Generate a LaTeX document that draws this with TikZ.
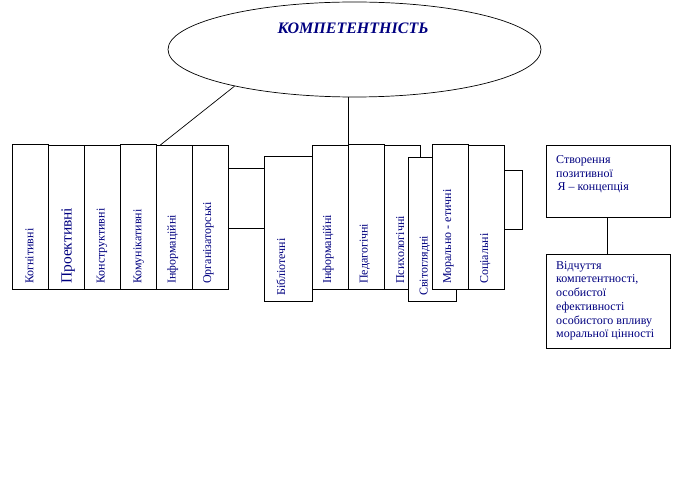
\documentclass[tikz,border=0pt]{standalone}
\usepackage{fontspec}
\setmainfont{Liberation Serif}
\usetikzlibrary{shapes.geometric,fit}
\definecolor{tnavy}{HTML}{000080}
\tikzset{
  bx/.style={draw=black, fill=white, line width=0.9pt, rectangle, inner sep=0pt},
  vtxt/.style={rotate=90, anchor=base west, inner sep=0pt, text=tnavy, font=\fontsize{12}{14}\selectfont},
  htxt/.style={anchor=north west, inner sep=0pt, align=left, text=tnavy, font=\fontsize{12}{13.7}\selectfont},
  conn/.style={draw=black, line width=0.9pt},
  thin/.style={draw=black, line width=0.7pt}
}
\begin{document}
\begin{tikzpicture}[x=1pt,y=-1pt]
\useasboundingbox (0,0) rectangle (673,494);
% ellipse
\node[ellipse, draw=black, line width=0.7pt, minimum width=373pt, minimum height=95pt, inner sep=0pt] (e) at (354.5,49.5) {};
\node[anchor=base, inner sep=0pt, text=tnavy, font=\fontsize{16}{18}\selectfont\bfseries\itshape] (title) at (353,33.3) {КОМПЕТЕНТНІСТЬ};
% left group
\node[bx, fit={(12.3,144.3) (48.7,289.3)}] (k1) {};
\node[bx, fit={(48.7,145.3) (84.7,289.3)}] (k2) {};
\node[bx, fit={(84.7,145.3) (120.3,289.3)}] (k3) {};
\node[bx, fit={(120.3,144.3) (156.3,289.3)}] (k4) {};
\node[bx, fit={(156.3,145.3) (192.3,289.3)}] (k5) {};
\node[bx, fit={(192.3,145.3) (228.3,289.3)}] (k6) {};
\node[vtxt] (tk1) at (33.3,284) {Когнітивні};
\node[vtxt, font=\fontsize{15.5}{17}\selectfont] (tk2) at (71.5,284) {Проективні};
\node[vtxt] (tk3) at (104.5,284) {Конструктивні};
\node[vtxt] (tk4) at (141.3,284) {Комунікативні};
\node[vtxt] (tk5) at (175.5,284) {Інформаційні};
\node[vtxt] (tk6) at (211,284) {Організаторські};
% middle group
\node[bx, fit={(264.3,156.3) (312.3,301.3)}] (m1) {};
\node[bx, fit={(312.3,145.3) (348.7,289.3)}] (m2) {};
\node[bx, fit={(348.7,144.3) (384.3,289.3)}] (m3) {};
\node[bx, fit={(384.3,145.3) (420.3,289.3)}] (m4) {};
\node[vtxt] (tm1) at (285,296) {Бібліотечні};
\node[vtxt] (tm2) at (331,284) {Інформаційні};
\node[vtxt] (tm3) at (367.5,284) {Педагогічні};
\node[vtxt] (tm4) at (404,284) {Психологічні};
\node[bx, fit={(408.3,157.3) (456.3,301.3)}] (m5) {};
\node[vtxt] (tm5) at (427.5,296) {Світоглядні};
\node[bx, fit={(432.3,144.3) (468.3,289.3)}] (m6) {};
\node[bx, fit={(468.3,145.3) (504.3,289.3)}] (m7) {};
\node[vtxt] (tm6) at (451,284) {Морально - етичні};
\node[vtxt] (tm7) at (488,284) {Соціальні};
% right group
\node[bx, fit={(546.7,145.3) (670,217.3)}] (r1) {};
\node[bx, fit={(546.7,254.3) (670,348.3)}] (r2) {};
\node[htxt] (tr1) at (556,155.4) {Створення\\позитивної\\\hspace{1.5pt}Я – концепція};
\node[htxt] (tr2) at (556,261.1) {Відчуття\\компетентності,\\особистої\\ефективності\\особистого впливу\\моральної цінності};
% connectors
\coordinate (c1) at (160,145.3);
\draw[thin] (e.197) -- (c1);
\draw[conn] (e.south -| m3.north west) -- (m3.north west);
\coordinate (la) at (0,168.3);
\coordinate (lb) at (0,228.7);
\draw[conn] (k6.east |- la) -- (m1.west |- la);
\draw[conn] (k6.east |- lb) -- (m1.west |- lb);
\coordinate (ba) at (522.3,170.7);
\coordinate (bb) at (522.3,229.3);
\draw[conn] (m7.east |- ba) -- (ba) -- (bb) -- (m7.east |- bb);
\draw[conn] (r1.south -| 607,0) -- (r2.north -| 607,0);
\end{tikzpicture}
\end{document}
